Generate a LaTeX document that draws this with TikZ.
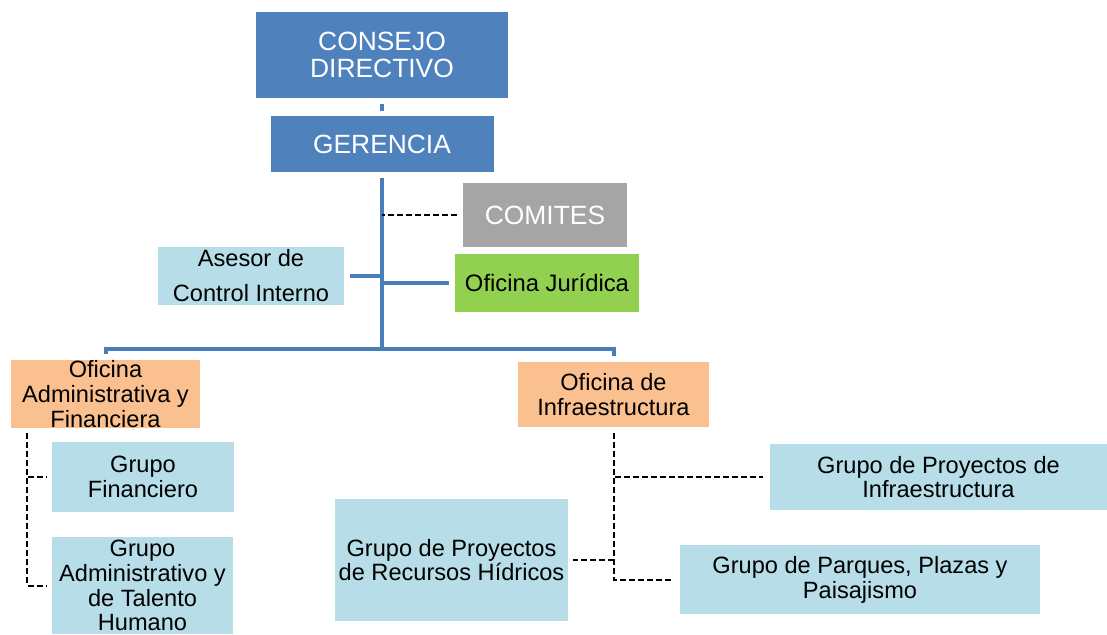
\documentclass[tikz,border=0pt]{standalone}
\usepackage{fontspec}
\setmainfont{Liberation Sans}
\definecolor{azul}{HTML}{4F81BD}
\definecolor{gris}{HTML}{A5A5A5}
\definecolor{celeste}{HTML}{B7DEE8}
\definecolor{verde}{HTML}{92D050}
\definecolor{naranja}{HTML}{FAC090}
\definecolor{linea}{HTML}{4A7EBB}
\begin{document}
\begin{tikzpicture}[x=0.5pt, y=-0.5pt,
  every node/.style = {shape=rectangle, align=center, inner sep=0pt},
  mando/.style = {fill=azul, text=white, font=\fontsize{13.2}{13.6}\selectfont},
  comite/.style = {fill=gris, text=white, font=\fontsize{13.2}{13.6}\selectfont},
  juridica/.style = {fill=verde, font=\fontsize{11.9}{13}\selectfont},
  asesoria/.style = {fill=celeste, font=\fontsize{11.8}{17.5}\selectfont},
  oficina/.style = {fill=naranja, font=\fontsize{11.8}{12.6}\selectfont},
  grupo/.style = {fill=celeste, font=\fontsize{11.8}{12.4}\selectfont},
  tronco/.style = {draw=linea, line width=2pt},
  punteada/.style = {draw=black, line width=1pt, dash pattern=on 3pt off 1.5pt}]
  \useasboundingbox (0,0) rectangle (1107,634);
  \node[mando, minimum width=126pt, minimum height=43pt] (consejo) at (382,55) {CONSEJO\\DIRECTIVO};
  \node[mando, minimum width=111.5pt, minimum height=28pt] (gerencia) at (382,144) {GERENCIA};
  \node[comite, minimum width=82pt, minimum height=32pt] (comites) at (545,215) {COMITES};
  \node[asesoria, minimum width=93pt, minimum height=29pt] (asesor) at (251,276) {Asesor de\\Control Interno};
  \node[juridica, minimum width=92pt, minimum height=29pt] (ofjur) at (547,283) {Oficina Jurídica};
  \node[oficina, minimum width=94.5pt, minimum height=33pt] (ofadmin) at (105.5,394) {Oficina\\Administrativa y\\Financiera};
  \node[oficina, minimum width=95.5pt, minimum height=32.5pt] (ofinfra) at (613.5,394.5) {Oficina de\\Infraestructura};
  \node[grupo, minimum width=91pt, minimum height=35pt] (grfin) at (143,477) {Grupo\\Financiero};
  \node[grupo, minimum width=90.5pt, minimum height=48.5pt] (gradmin) at (142.5,585.5) {Grupo\\Administrativo y\\de Talento\\Humano};
  \node[grupo, minimum width=168.5pt, minimum height=33pt] (grinfra) at (938.5,477) {Grupo de Proyectos de\\Infraestructura};
  \node[grupo, minimum width=116.5pt, minimum height=61pt] (grhidr) at (451.5,560) {Grupo de Proyectos\\de Recursos Hídricos};
  \node[grupo, minimum width=180pt, minimum height=34.5pt] (grparq) at (860,579.5) {Grupo de Parques, Plazas y\\Paisajismo};
  \coordinate (hub) at (382,349);
  \coordinate (admtop) at (27,433);
  \draw[tronco, shorten <=3pt, shorten >=2.5pt] (consejo.south) -- (gerencia.north);
  \draw[tronco, shorten <=3pt] (gerencia.south) -- (hub);
  \draw[tronco, line join=miter, shorten <=3pt, shorten >=3pt] (ofadmin.north) |- (hub) -| (ofinfra.north);
  \draw[tronco, shorten <=3pt] (asesor.east) -- (asesor.east -| hub);
  \draw[tronco, shorten <=3pt] (ofjur.west) -- (ofjur.west -| hub);
  \draw[punteada, line width=0.75pt, shorten <=3pt] (comites.west) -- (comites.west -| hub);
  \draw[punteada, shorten >=2.5pt] (admtop) |- (grfin.west);
  \draw[punteada, shorten >=2.5pt] (admtop) |- (gradmin.west);
  \draw[punteada, shorten <=3pt, shorten >=3.5pt] (ofinfra.south) |- (grinfra.west);
  \draw[punteada, shorten <=3pt, shorten >=3.5pt] (ofinfra.south) |- (grparq.west);
  \draw[punteada, shorten <=3pt, shorten >=2.5pt] (ofinfra.south) |- (grhidr.east);
\end{tikzpicture}
\end{document}
